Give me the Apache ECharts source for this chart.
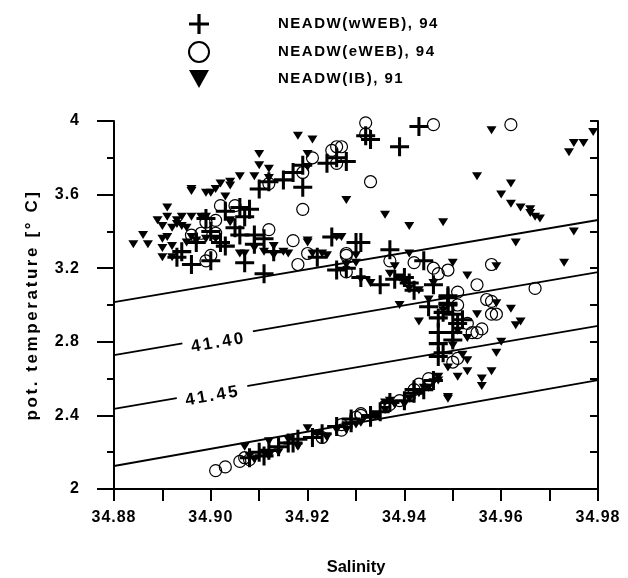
<!DOCTYPE html>
<html>
<head>
<meta charset="utf-8">
<script src="https://cdn.jsdelivr.net/npm/echarts@6/dist/echarts.min.js"></script>
<style>
  html, body { margin: 0; padding: 0; background: #fff; }
  #chart { width: 628px; height: 578px; }
</style>
</head>
<body>
<div id="chart"></div>
<script>
// [salinity, pot. temperature]
const wWEB94 = [
  [34.943,3.97],[34.933,3.90],[34.939,3.86],[34.932,3.92],[34.928,3.78],[34.931,3.34],[34.937,3.30],[34.944,3.24],
  [34.928,3.20],[34.931,3.15],[34.935,3.11],[34.938,3.14],[34.946,3.11],[34.942,3.08],[34.949,3.05],[34.941,3.12],[34.940,3.15],
  [34.926,3.80],[34.924,3.77],[34.919,3.76],[34.917,3.72],[34.915,3.68],[34.912,3.67],[34.919,3.64],[34.910,3.63],
  [34.906,3.53],[34.908,3.52],[34.907,3.48],[34.905,3.42],[34.903,3.51],[34.899,3.47],[34.900,3.40],[34.909,3.38],
  [34.906,3.38],[34.909,3.33],[34.911,3.36],[34.902,3.34],[34.900,3.24],[34.896,3.22],[34.894,3.29],[34.893,3.26],
  [34.897,3.34],[34.907,3.23],[34.911,3.17],[34.903,3.32],[34.925,3.37],[34.922,3.26],[34.926,3.19],[34.930,3.34],[34.913,3.29],
  [34.945,2.99],[34.947,2.93],[34.948,2.96],[34.949,3.00],[34.950,2.95],[34.952,2.92],[34.947,2.79],[34.950,2.81],
  [34.948,2.74],[34.947,2.72],[34.946,2.59],[34.944,2.54],[34.942,2.54],[34.937,2.47],[34.933,2.40],[34.929,2.38],
  [34.949,3.01],[34.951,2.90],[34.949,3.04],[34.947,2.85],[34.950,2.85],
  [34.917,2.25],[34.918,2.27],[34.921,2.28],[34.923,2.30],[34.926,2.34],[34.929,2.36],[34.933,2.39],[34.935,2.42],
  [34.914,2.23],[34.912,2.21],[34.910,2.20],[34.916,2.25],[34.908,2.17],[34.911,2.18],[34.940,2.48],[34.942,2.52]
];
const eWEB94 = [
  [34.932,3.99],[34.946,3.98],[34.962,3.98],[34.933,3.67],[34.927,3.86],[34.932,3.93],
  [34.926,3.86],[34.925,3.84],[34.921,3.80],[34.926,3.77],[34.919,3.72],[34.912,3.66],[34.919,3.52],[34.902,3.54],
  [34.905,3.54],[34.899,3.45],[34.901,3.46],[34.896,3.38],[34.898,3.39],[34.901,3.39],[34.912,3.41],[34.900,3.27],
  [34.899,3.24],[34.917,3.35],[34.918,3.22],[34.920,3.28],[34.928,3.28],[34.928,3.18],
  [34.928,3.27],[34.937,3.24],[34.942,3.23],[34.946,3.20],[34.949,3.19],[34.947,3.17],[34.958,3.22],[34.955,3.11],
  [34.967,3.09],[34.958,3.02],[34.951,3.07],
  [34.957,3.03],[34.958,2.95],[34.959,2.95],[34.955,2.85],[34.956,2.87],[34.954,2.85],[34.953,2.90],[34.951,3.00],
  [34.950,2.69],[34.951,2.71],[34.942,2.54],[34.939,2.48],[34.931,2.40],[34.927,2.35],
  [34.901,2.10],[34.903,2.12],[34.906,2.15],[34.907,2.17],[34.927,2.32],[34.931,2.41],[34.930,2.39],[34.908,2.16],
  [34.923,2.28],[34.937,2.46],[34.943,2.57],[34.945,2.60]
];
const IB91 = [
  [34.958,3.95],[34.974,3.83],[34.975,3.88],[34.977,3.88],[34.979,3.94],
  [34.955,3.70],[34.962,3.66],[34.960,3.60],[34.962,3.55],[34.964,3.53],[34.966,3.52],[34.966,3.50],[34.967,3.48],
  [34.968,3.47],[34.975,3.40],[34.963,3.34],[34.973,3.23],[34.959,3.21],[34.953,3.16],[34.950,3.23],[34.948,3.45],
  [34.941,3.43],[34.936,3.49],[34.928,3.57],[34.941,3.28],[34.937,3.17],[34.938,3.21],[34.939,3.15],[34.940,3.12],
  [34.939,3.00],[34.943,2.91],[34.962,2.98],[34.964,2.91],[34.963,2.89],[34.960,2.80],[34.959,2.74],[34.958,2.64],
  [34.953,2.64],[34.956,2.60],[34.956,2.56],[34.953,2.70],[34.951,2.61],[34.949,2.49],[34.949,2.50],[34.940,2.46],
  [34.938,2.46],[34.936,2.43],[34.959,3.01],[34.955,2.95],[34.953,2.82],[34.945,3.03],[34.948,2.97],[34.951,2.86],
  [34.950,2.78],[34.952,2.73],[34.949,2.66],[34.947,2.59],[34.945,2.55],
  [34.918,3.92],[34.921,3.90],[34.910,3.82],[34.910,3.76],[34.912,3.74],[34.909,3.70],[34.912,3.69],[34.920,3.82],
  [34.920,3.75],[34.906,3.70],[34.904,3.67],[34.902,3.66],[34.901,3.63],[34.899,3.61],[34.896,3.63],[34.891,3.53],
  [34.889,3.46],[34.891,3.48],[34.893,3.46],[34.894,3.48],[34.890,3.43],[34.892,3.42],[34.894,3.43],[34.896,3.48],
  [34.898,3.48],[34.899,3.48],[34.904,3.46],[34.903,3.59],[34.886,3.38],[34.884,3.33],[34.887,3.33],[34.891,3.37],
  [34.892,3.32],[34.892,3.26],[34.895,3.34],[34.897,3.35],[34.906,3.28],[34.909,3.31],[34.913,3.32],[34.913,3.27],
  [34.915,3.29],[34.916,3.28],[34.920,3.34],[34.924,3.27],[34.921,3.28],[34.923,3.28],[34.926,3.37],[34.904,3.45],
  [34.907,3.28],[34.911,3.29],[34.920,3.35],[34.927,3.37],[34.930,3.27],[34.930,3.23],[34.896,3.62],[34.900,3.61],
  [34.904,3.65],[34.893,3.44],[34.895,3.42],[34.890,3.36],[34.890,3.31],[34.890,3.26],[34.896,3.37],[34.899,3.36],
  [34.901,3.36],
  [34.933,3.12],[34.931,3.14],[34.928,3.22],[34.941,3.09],[34.943,3.08],[34.946,3.12],
  [34.907,2.23],[34.912,2.26],[34.920,2.33],[34.916,2.27],[34.922,2.30],[34.936,2.47],[34.937,2.48],[34.938,2.46],
  [34.931,2.36],[34.926,2.32],[34.908,2.18],[34.909,2.16],[34.912,2.18],[34.914,2.20],[34.918,2.23],[34.924,2.28],
  [34.928,2.32],[34.930,2.35],[34.934,2.40],[34.941,2.49],[34.943,2.52],[34.944,2.55],[34.946,2.58],[34.947,2.61]
];

// density isolines: temperature at S=34.88 and S=34.98
const isoSal = [34.88, 34.98];
const isoLeft = [3.016, 2.728, 2.435, 2.125];
const isoRight = [3.462, 3.179, 2.886, 2.592];
const isoLabels = [[34.9016, 2.795, '41.40'], [34.9004, 2.505, '41.45']];

const seriesNames = ['NEADW(wWEB), 94', 'NEADW(eWEB), 94', 'NEADW(IB), 91'];

// the original lettering is tracked out; canvas can do that natively,
// keyed here on font size
const tracking = { '15': '1.5px', '16': '1px', '17': '2.6px' };
['fillText', 'strokeText', 'measureText'].forEach(fn => {
  const orig = CanvasRenderingContext2D.prototype[fn];
  CanvasRenderingContext2D.prototype[fn] = function (...args) {
    const m = /([\d.]+)px/.exec(this.font);
    this.letterSpacing = (m && tracking[m[1]]) || '0px';
    return orig.apply(this, args);
  };
});

const FONT = 'Liberation Sans, Arial, Helvetica, sans-serif';
const crossPath = 'path://M-1.6,-10H1.6V-1.6H10V1.6H1.6V10H-1.6V1.6H-10V-1.6H-1.6Z';
const triPath = 'path://M0,0L10,0L5,9Z';

const chart = echarts.init(document.getElementById('chart'));

const isoSeries = isoLeft.map((t, i) => ({
  type: 'line',
  silent: true,
  symbol: 'none',
  data: [[isoSal[0], t], [isoSal[1], isoRight[i]]],
  lineStyle: { color: '#000', width: 1.8 },
  z: 1
}));

const option = {
  animation: false,
  backgroundColor: '#fff',
  textStyle: { fontFamily: FONT, color: '#000', fontWeight: 'bold' },
  grid: { left: 114, right: 30, top: 121, bottom: 89, outerBoundsMode: 'none' },
  legend: {
    orient: 'vertical',
    left: 183,
    top: 9,
    itemWidth: 20,
    itemHeight: 20,
    itemGap: 7,
    data: seriesNames,
    textStyle: { fontFamily: FONT, fontSize: 15, fontWeight: 'bold', color: '#000', padding: [0, 0, 0, 64] }
  },
  xAxis: {
    type: 'value',
    min: 34.88,
    max: 34.98,
    interval: 0.02,
    name: 'Salinity',
    nameLocation: 'middle',
    nameGap: 70,
    nameTextStyle: { fontSize: 16.5, fontWeight: 'bold', color: '#000' },
    axisLine: { lineStyle: { color: '#000', width: 2 } },
    axisTick: { length: 12, lineStyle: { color: '#000', width: 2 } },
    minorTick: { show: true, splitNumber: 2, length: 12, lineStyle: { color: '#000', width: 2 } },
    splitLine: { show: false },
    axisLabel: { margin: 20, fontSize: 16, fontWeight: 'bold', color: '#000', formatter: v => v.toFixed(2) }
  },
  yAxis: [
    {
      type: 'value',
      position: 'left',
      min: 2,
      max: 4,
      interval: 0.4,
      name: 'pot. temperature [° C]',
      nameLocation: 'middle',
      nameGap: 72,
      nameTextStyle: { fontSize: 17, fontWeight: 'bold', color: '#000' },
      axisLine: { show: true, lineStyle: { color: '#000', width: 2 } },
      axisTick: { length: 17, lineStyle: { color: '#000', width: 2 } },
      minorTick: { show: true, splitNumber: 2, length: 7, lineStyle: { color: '#000', width: 2 } },
      splitLine: { show: false },
      axisLabel: { margin: 34, fontSize: 16, fontWeight: 'bold', color: '#000' }
    },
    {
      type: 'value',
      position: 'right',
      min: 2,
      max: 4,
      interval: 0.2,
      axisLine: { show: true, lineStyle: { color: '#000', width: 2 } },
      axisTick: { inside: true, length: 8, lineStyle: { color: '#000', width: 2 } },
      axisLabel: { show: false },
      splitLine: { show: false }
    }
  ],
  series: [
    ...isoSeries,
    {
      type: 'scatter',
      name: seriesNames[2],
      data: IB91,
      symbol: triPath,
      symbolSize: [10, 8],
      itemStyle: { color: '#000', opacity: 1 },
      z: 3
    },
    {
      type: 'scatter',
      name: seriesNames[0],
      data: wWEB94,
      symbol: crossPath,
      symbolSize: 19,
      itemStyle: { color: '#000', opacity: 1 },
      z: 4
    },
    {
      type: 'scatter',
      name: seriesNames[1],
      data: eWEB94,
      symbol: 'circle',
      symbolSize: 12,
      itemStyle: { color: 'rgba(0,0,0,0)', borderColor: '#000', borderWidth: 1.2, opacity: 1 },
      z: 5
    },
    {
      type: 'scatter',
      silent: true,
      data: isoLabels,
      symbolSize: 0,
      z: 6,
      itemStyle: { opacity: 1 },
      label: {
        show: true,
        position: 'inside',
        rotate: 9.7,
        formatter: p => p.data[2],
        fontFamily: FONT,
        fontSize: 17,
        fontWeight: 'bold',
        color: '#000',
        textBorderWidth: 0,
        backgroundColor: '#fff',
        padding: [2, 8]
      }
    }
  ]
};

chart.setOption(option);
</script>
</body>
</html>
